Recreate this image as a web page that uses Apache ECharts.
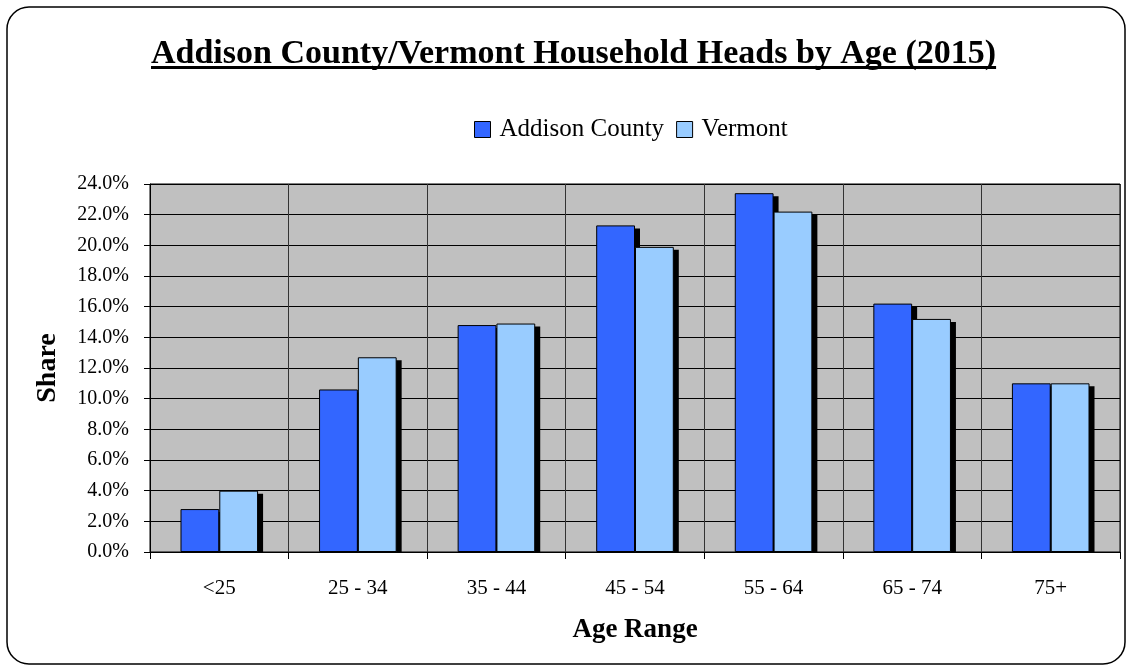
<!doctype html>
<html>
	<head>
		<meta charset="utf-8">
		<title>Household Heads by Age</title>
		<script src="https://cdn.jsdelivr.net/npm/echarts@6/dist/echarts.min.js"></script>
		<style>
			html, body {
				margin: 0px;
				padding: 0px;
				background: #ffffff;
			}
			#chart {
				width: 1132px;
				height: 670px;
			}
		</style>
	</head>

	<body>
		<div id="chart"></div>
	</body>

	<script type="text/javascript">
		//年龄段
		var ageRange = ['<25', '25 - 34', '35 - 44', '45 - 54', '55 - 64', '65 - 74', '75+'];
		//Addison County 占比(%)
		var addisonShare = [2.8, 10.6, 14.8, 21.3, 23.4, 16.2, 11.0];
		//Vermont 占比(%)
		var vermontShare = [4.0, 12.7, 14.9, 19.9, 22.2, 15.2, 11.0];
		//Y轴刻度
		var yMax = 24;
		var yStep = 2;

		var serif = "'Liberation Serif', 'Times New Roman', serif";
		var titleText = 'Addison County/Vermont Household Heads by Age (2015)';
		var titleSize = 34;
		//柱宽占类目宽的比例
		var barRatio = 0.28;

		var byId = function(id) {
			return document.getElementById(id);
		};

		// 量一下标题宽度, 画下划线
		var measure = function(text, font) {
			var ctx = document.createElement('canvas').getContext('2d');
			ctx.font = font;
			return ctx.measureText(text).width;
		};

		var chart = echarts.init(byId('chart'));
		var titleW = measure(titleText, 'bold ' + titleSize + 'px ' + serif);
		var titleX = Math.round(574 - titleW / 2);

		// 黑色投影, 画在柱子下面
		var shadowSeries = function(data, side) {
			return {
				type: 'custom',
				z: 1,
				silent: true,
				data: data,
				renderItem: function(params, api) {
					var top = api.coord([api.value(0), api.value(1)]);
					var base = api.coord([api.value(0), 0]);
					var w = api.size([1, 0])[0] * barRatio;
					var x0 = side < 0 ? top[0] - w : top[0];
					return {
						type: 'rect',
						shape: { x: x0 + 5, y: top[1] + 3, width: w, height: base[1] - top[1] - 3 },
						style: { fill: '#000' }
					};
				},
				encode: { x: 0, y: 1 }
			};
		};

		var toPairs = function(arr) {
			return arr.map(function(v, i) {
				return [i, v];
			});
		};

		var option = {
			animation: false,
			backgroundColor: '#fff',
			textStyle: {
				fontFamily: serif,
				color: '#000'
			},
			title: {
				text: titleText,
				left: titleX,
				top: 37,
				padding: 0,
				textStyle: {
					fontFamily: serif,
					fontSize: titleSize,
					fontWeight: 'bold',
					color: '#000'
				}
			},
			legend: {
				left: 474,
				top: 117,
				padding: 0,
				itemWidth: 16,
				itemHeight: 16,
				itemGap: 12,
				icon: 'rect',
				itemStyle: {
					borderColor: '#000',
					borderWidth: 1
				},
				textStyle: {
					fontFamily: serif,
					fontSize: 25,
					color: '#000',
					padding: [0, 0, 0, 4]
				},
				data: ['Addison County', 'Vermont']
			},
			graphic: [{
				type: 'rect',
				shape: { x: 7, y: 7, width: 1118, height: 657, r: 22 },
				style: { fill: 'none', stroke: '#000', lineWidth: 1.5 },
				silent: true
			}, {
				type: 'rect',
				shape: { x: titleX, y: 66, width: titleW, height: 3 },
				style: { fill: '#000' },
				silent: true
			}],
			grid: {
				left: 150,
				right: 12,
				top: 184,
				bottom: 118,
				show: true,
				backgroundColor: '#C0C0C0',
				borderColor: '#000',
				borderWidth: 1
			},
			xAxis: {
				type: 'category',
				data: ageRange,
				name: 'Age Range',
				nameLocation: 'middle',
				nameGap: 65,
				nameTextStyle: {
					fontFamily: serif,
					fontSize: 27,
					fontWeight: 'bold',
					color: '#000'
				},
				axisLine: { lineStyle: { color: '#000', width: 1 } },
				axisTick: { show: true, length: 7, lineStyle: { color: '#000' } },
				splitLine: { show: true, lineStyle: { color: '#333', width: 1 } },
				axisLabel: {
					fontFamily: serif,
					fontSize: 21,
					color: '#000',
					margin: 26
				}
			},
			yAxis: {
				type: 'value',
				min: 0,
				max: yMax,
				interval: yStep,
				name: 'Share',
				nameLocation: 'middle',
				nameGap: 88,
				nameTextStyle: {
					fontFamily: serif,
					fontSize: 28,
					fontWeight: 'bold',
					color: '#000'
				},
				axisLine: { show: true, lineStyle: { color: '#000' } },
				axisTick: { show: true, length: 6, lineStyle: { color: '#000' } },
				splitLine: { show: true, lineStyle: { color: '#000', width: 1 } },
				axisLabel: {
					fontFamily: serif,
					fontSize: 20,
					color: '#000',
					margin: 21,
					formatter: function(v) {
						return v.toFixed(1) + '%';
					}
				}
			},
			series: [
				shadowSeries(toPairs(addisonShare), -1),
				shadowSeries(toPairs(vermontShare), 1),
				{
					name: 'Addison County',
					type: 'bar',
					z: 2,
					barGap: '0%',
					barCategoryGap: '44%',
					itemStyle: { color: '#3366FF', borderColor: '#000', borderWidth: 1 },
					data: addisonShare
				}, {
					name: 'Vermont',
					type: 'bar',
					z: 2,
					barGap: '0%',
					barCategoryGap: '44%',
					itemStyle: { color: '#99CCFF', borderColor: '#000', borderWidth: 1 },
					data: vermontShare
				}
			]
		};

		chart.setOption(option);
	</script>

</html>
